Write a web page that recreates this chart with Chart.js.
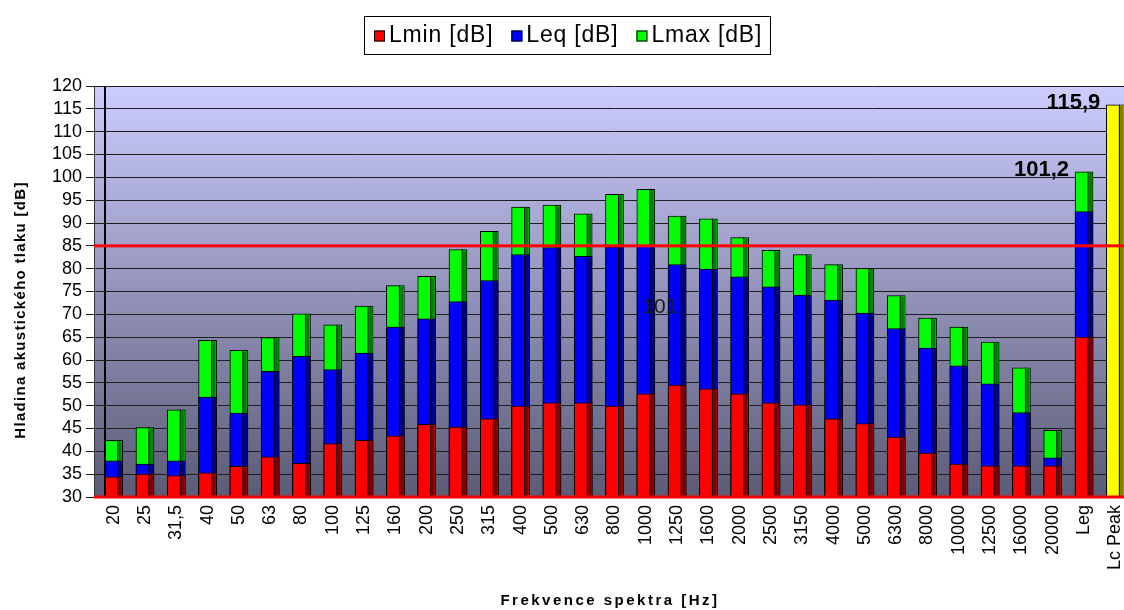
<!DOCTYPE html>
<html><head><meta charset="utf-8">
<script src="https://cdn.jsdelivr.net/npm/chart.js@4.4.1/dist/chart.umd.min.js"></script>
<style>html,body{margin:0;padding:0;overflow:hidden;background:#fff}canvas{display:block}</style>
</head><body>
<canvas id="c" width="1131" height="610"></canvas>
<script>
const categories = ['20','25','31,5','40','50','63','80','100','125','160','200','250','315','400','500','630','800','1000','1250','1600','2000','2500','3150','4000','5000','6300','8000','10000','12500','16000','20000','Leg','Lc Peak'];
const lminValues = [34.4,35.0,34.7,35.3,36.7,38.8,37.4,41.7,42.4,43.4,45.9,45.3,47.1,49.9,50.6,50.6,49.9,52.6,54.5,53.7,52.6,50.6,50.2,47.1,46.1,43.1,39.6,37.2,36.8,36.8,36.8,65.0,null];
const leqValues = [37.9,37.2,37.9,51.9,48.4,57.5,60.8,57.9,61.5,67.2,69.0,72.8,77.4,83.1,84.6,82.7,84.8,85.0,80.9,79.9,78.2,76.0,74.2,73.1,70.3,66.9,62.6,58.7,54.8,48.5,38.6,92.5,null];
const lmaxValues = [42.4,45.2,49.1,64.3,62.1,64.9,70.1,67.7,71.8,76.3,78.3,84.2,88.2,93.5,93.9,92.0,96.3,97.4,91.5,90.9,86.8,84.0,83.1,80.9,80.1,74.1,69.2,67.2,63.9,58.3,44.6,101.2,null];
const lcPeakValues = [null,null,null,null,null,null,null,null,null,null,null,null,null,null,null,null,null,null,null,null,null,null,null,null,null,null,null,null,null,null,null,null,115.9];
const seriesNames = ['Lmin [dB]','Leq [dB]','Lmax [dB]','Lc Peak'];
const yMin = 30, yMax = 120, yStep = 5;
const limitLevel = 85;
const valueLabels = [{category:'Leg', value:101.2, text:'101,2'},{category:'Lc Peak', value:115.9, text:'115,9'}];
const strayLabel = {category:'1000', value:71.5, text:'101'};
const yTitle = 'Hladina akustického tlaku [dB]';
const xTitle = 'Frekvence spektra [Hz]';

const FONT = '"Liberation Sans", Arial, sans-serif';

const deco = {
  id: 'deco',
  beforeDraw(chart) {
    const {ctx, chartArea: a} = chart;
    const left = a.left - 4;
    const g = ctx.createLinearGradient(0, a.top, 0, a.bottom);
    g.addColorStop(0, '#ccccff');
    g.addColorStop(1, '#5b5b76');
    ctx.save();
    ctx.fillStyle = g;
    ctx.fillRect(left, a.top, a.right - left, a.bottom - a.top);
    ctx.fillStyle = '#333';
    ctx.fillRect(left, a.top, 1, a.bottom - a.top);
    ctx.restore();
  },
  afterDatasetDraw(chart, args) {
    const ds = chart.data.datasets[args.index];
    const ctx = chart.ctx;
    const a = chart.chartArea;
    ctx.save();
    args.meta.data.forEach((el, i) => {
      if (ds.data[i] == null) return;
      const p = el.getProps(['x', 'y', 'base', 'width'], true);
      const right = p.x + p.width / 2;
      const top = Math.max(Math.min(p.y, p.base), a.top);
      const bot = Math.min(Math.max(p.y, p.base), a.bottom);
      ctx.fillStyle = ds.sideColor;
      ctx.fillRect(right - 4.5, top + 1, 3.5, bot - top - 1);
      ctx.fillStyle = '#000';
      ctx.fillRect(right - 5.5, top, 1, bot - top);
    });
    ctx.restore();
  },
  afterDraw(chart) {
    const {ctx, chartArea: a, scales: {x, y}} = chart;
    const left = a.left - 4;
    ctx.save();
    ctx.fillStyle = '#000';
    ctx.fillRect(a.left + 6, a.top, 2, a.bottom - a.top);
    ctx.fillStyle = '#ff0000';
    const yl = y.getPixelForValue(limitLevel);
    ctx.fillRect(left, yl - 1.5, a.right - left, 3);
    ctx.fillRect(left, a.bottom - 1.5, a.right - left, 3);
    ctx.fillStyle = '#000';
    ctx.font = 'bold 22px ' + FONT;
    ctx.textAlign = 'right';
    ctx.textBaseline = 'middle';
    valueLabels.forEach(l => {
      const idx = categories.indexOf(l.category);
      const px = x.getPixelForValue(idx) - 9 - 6;
      ctx.fillText(l.text, px, y.getPixelForValue(l.value) - 2);
    });
    ctx.font = '21px ' + FONT;
    ctx.textAlign = 'center';
    ctx.fillStyle = '#1a1a1a';
    const si = categories.indexOf(strayLabel.category);
    ctx.fillText(strayLabel.text, x.getPixelForValue(si + 0.45), y.getPixelForValue(strayLabel.value));
    ctx.fillStyle = '#000';
    ctx.font = 'bold 15px ' + FONT;
    ctx.letterSpacing = '2.5px';
    ctx.textAlign = 'center';
    ctx.textBaseline = 'middle';
    ctx.fillText(xTitle, 610, 601);
    ctx.letterSpacing = '1.3px';
    ctx.translate(21, 310);
    ctx.rotate(-Math.PI / 2);
    ctx.fillText(yTitle, 0, 0);
    ctx.restore();
    // legend
    ctx.save();
    ctx.font = '23px ' + FONT;
    ctx.letterSpacing = '0.8px';
    ctx.textBaseline = 'middle';
    ctx.textAlign = 'left';
    const items = chart.data.datasets.filter(d => d.inLegend);
    const sq = 11, gap = 4, itemGap = 18, padL = 10, padR = 8;
    const widths = items.map(d => ctx.measureText(d.label).width);
    const total = padL + padR + items.reduce((s, d, i) => s + sq + gap + widths[i], 0) + itemGap * (items.length - 1);
    const cx = 567, boxTop = 16, boxH = 38;
    const bx = Math.round(cx - total / 2);
    ctx.fillStyle = '#fff';
    ctx.fillRect(bx, boxTop, total, boxH);
    ctx.strokeStyle = '#000';
    ctx.lineWidth = 1;
    ctx.strokeRect(bx + 0.5, boxTop + 0.5, Math.round(total), boxH);
    let cxp = bx + padL;
    const cy = boxTop + boxH / 2 + 1;
    items.forEach((d, i) => {
      ctx.fillStyle = d.backgroundColor;
      ctx.fillRect(cxp, cy - sq / 2, sq, sq);
      ctx.strokeStyle = '#000';
      ctx.strokeRect(cxp + 0.5, cy - sq / 2 + 0.5, sq - 1, sq - 1);
      cxp += sq + gap;
      ctx.fillStyle = '#000';
      ctx.fillText(d.label, cxp, cy);
      cxp += widths[i] + itemGap;
    });
    ctx.restore();
  }
};

const common = {borderColor: '#000', borderWidth: 1, borderSkipped: false, barThickness: 18, grouped: false};

new Chart(document.getElementById('c'), {
  type: 'bar',
  data: {
    labels: categories,
    datasets: [
      Object.assign({label: seriesNames[0], data: lminValues, backgroundColor: '#ff0000', sideColor: '#800000', inLegend: true}, common),
      Object.assign({label: seriesNames[1], data: leqValues, backgroundColor: '#0000ff', sideColor: '#000080', inLegend: true}, common),
      Object.assign({label: seriesNames[2], data: lmaxValues, backgroundColor: '#00ff00', sideColor: '#008000', inLegend: true}, common),
      Object.assign({label: seriesNames[3], data: lcPeakValues, backgroundColor: '#ffff00', sideColor: '#808000', inLegend: false}, common)
    ]
  },
  options: {
    responsive: false,
    animation: false,
    layout: {padding: {top: 86, left: 0, right: 0, bottom: 0}},
    plugins: {legend: {display: false}, tooltip: {enabled: false}, title: {display: false}},
    scales: {
      x: {
        grid: {display: false},
        border: {display: false},
        ticks: {autoSkip: false, maxRotation: 90, minRotation: 90, padding: 0, color: '#000', font: {family: FONT, size: 18}},
        afterFit(s) { s.height = 113; s.paddingLeft = 0; s.paddingRight = 0; }
      },
      y: {
        min: yMin, max: yMax,
        border: {display: false},
        grid: {color: '#1e1e1e', lineWidth: 1, tickLength: 12},
        ticks: {stepSize: yStep, maxTicksLimit: 40, autoSkip: false, padding: 4, color: '#000', font: {family: FONT, size: 18}},
        afterFit(s) { s.width = 98; s.paddingTop = 0; s.paddingBottom = 0; }
      }
    }
  },
  plugins: [deco]
});
</script>
</body></html>
